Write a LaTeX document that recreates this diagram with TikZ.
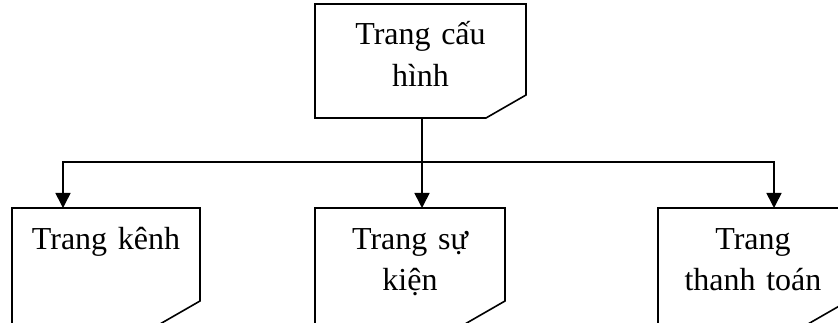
\documentclass[tikz,border=0pt]{standalone}
\usepackage{fontspec}
\setmainfont{Liberation Serif}
\usetikzlibrary{arrows.meta}

\tikzset{
  line/.style={line width=1.6pt},
  arrow/.style={line,-{Triangle[length=15pt,width=15pt]}},
  % page with the lower right corner cut off
  page/.style={text width=#1,align=center,inner sep=0pt,outer sep=0pt,
    text height=41pt,text depth=75pt,anchor=north west,
    font=\fontsize{32pt}{42pt}\selectfont,
    append after command={\pgfextra{
      \draw[line] (\tikzlastnode.north west)--(\tikzlastnode.north east)
        --([yshift=23pt]\tikzlastnode.south east)
        --([xshift=-40pt]\tikzlastnode.south east)
        --(\tikzlastnode.south west)--cycle;}}},
}

\begin{document}
\begin{tikzpicture}[x=1pt,y=-1pt]
\useasboundingbox (0,0) rectangle (838,323);

\node[page=211pt,text depth=73pt] (cfg) at (315,4) {Trang cấu\\hình};
\node[page=188pt] (kenh) at (12,208) {Trang kênh};
\node[page=190pt] (sukien) at (315,208) {Trang sự\\kiện};
\node[page=190pt] (thanhtoan) at (658,208) {Trang\\thanh toán};

\coordinate (fork) at ([xshift=1.5pt,yshift=-44pt]cfg.south);

\draw[arrow] ([xshift=1.5pt]cfg.south)--(fork |- sukien.north);
\draw[arrow] (fork)-|([xshift=-43pt]kenh.north);
\draw[arrow] (fork)-|([xshift=21pt]thanhtoan.north);

\end{tikzpicture}
\end{document}
